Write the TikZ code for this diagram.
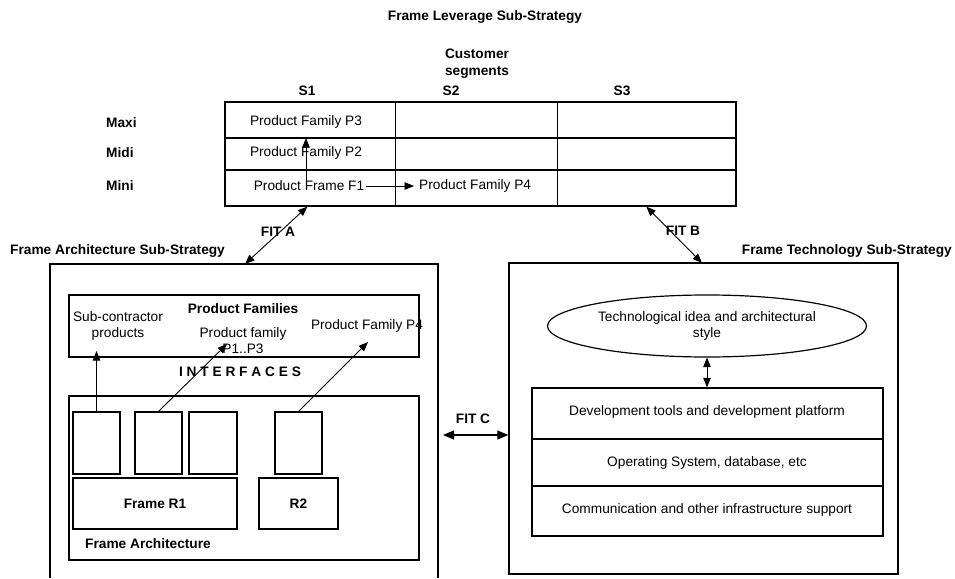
\documentclass[tikz,border=0pt]{standalone}
\usepackage{fontspec}
\setmainfont{Liberation Sans}
\usetikzlibrary{arrows.meta,shapes.geometric,calc,fit}

\begin{document}
\begin{tikzpicture}[x=1pt,y=-1pt,
  every node/.style={font=\fontsize{13.7}{16}\selectfont, inner sep=0pt},
  lbl/.style={font=\fontsize{13.7}{17}\selectfont\bfseries},
  box/.style={draw, line width=1.3pt, inner sep=0pt},
  thinbox/.style={draw, line width=1.1pt, inner sep=0pt},
  heavybox/.style={draw, line width=2.3pt, inner sep=0pt, font=\fontsize{13.7}{16}\selectfont\bfseries},
  gridline/.style={line width=1.3pt},
  arr/.style={-{Triangle[length=9.5pt,width=7.5pt]}, line width=0.9pt},
  dbl/.style={{Triangle[length=9.5pt,width=7.5pt]}-{Triangle[length=9.5pt,width=7.5pt]}, line width=0.9pt},
  bigdbl/.style={{Triangle[length=11pt,width=9pt]}-{Triangle[length=11pt,width=9pt]}, line width=1.1pt}
]
\useasboundingbox (0,0) rectangle (955,578);

% ---------- Frame leverage: customer segments table ----------
\node[lbl] (title) at (485,17) {Frame Leverage Sub-Strategy};
\node[lbl, align=center] (cust) at (477,63.5) {Customer\\segments};
\node[lbl] (s1) at (307,91) {S1};
\node[lbl] (s2) at (451,91) {S2};
\node[lbl] (s3) at (622,91) {S3};
\node[lbl, anchor=west] (maxi) at (106,123) {Maxi};
\node[lbl, anchor=west] (midi) at (106,153) {Midi};
\node[lbl, anchor=west] (mini) at (106,186) {Mini};

\node[box, fit={(225,102) (736,206)}] (tbl) {};
\coordinate (row1) at (225,138);
\coordinate (row2) at (225,170);
\draw[gridline] (row1) -- (row1 -| tbl.east);
\draw[gridline] (row2) -- (row2 -| tbl.east);
\draw[gridline] ($(tbl.north west)+(171,0)$) -- ($(tbl.south west)+(171,0)$);
\draw[gridline] ($(tbl.north west)+(333,0)$) -- ($(tbl.south west)+(333,0)$);

\node (p3) at (306,122) {Product Family P3};
\node (p2) at (306,153) {Product Family P2};
\node (f1) at (309,186) {Product Frame F1};
\node[anchor=west] (p4) at (419,186) {Product Family P4};
\draw[arr] (f1.north -| p3) -- (p3 |- row1);
\draw[arr, shorten <=2pt, shorten >=5pt] (f1) -- (p4);

% ---------- Frame architecture sub-strategy ----------
\node[lbl, anchor=west] (archtitle) at (10,251) {Frame Architecture Sub-Strategy};
\coordinate (abl) at (50,578);
\coordinate (atl) at (50,264);
\coordinate (atr) at (438,264);
\coordinate (abr) at (438,578);
\draw[line width=1.3pt] (abl) -- (atl) -- (atr) -- (abr);

\node[box, fit={(69,295) (419,357)}] (pf) {};
\node[lbl] (pftitle) at (243,309) {Product Families};
\node[align=center] (sub) at (118,326) {Sub-contractor\\products};
\node[align=center] (pf13) at (243,341) {Product family\\P1..P3};
\node (pf4) at (367,326) {Product Family P4};
\node[lbl] (intf) at (240,372) {I N T E R F A C E S};

\node[box, fit={(69,396) (419,560)}] (fa) {};
\node[thinbox, fit={(73,412) (120,474)}] (m1) {};
\node[thinbox, fit={(135,412) (182,474)}] (m2) {};
\node[thinbox, fit={(189,412) (237,474)}] (m3) {};
\node[thinbox, fit={(275,412) (322,474)}] (m4) {};
\node[heavybox, fit={(73,478) (237,529)}] (r1) {};
\node[font=\fontsize{13.7}{16}\selectfont\bfseries] (r1t) at (r1.center) {Frame R1};
\node[heavybox, fit={(259,478) (338,529)}] (r2) {};
\node[font=\fontsize{13.7}{16}\selectfont\bfseries] (r2t) at (r2.center) {R2};
\node[lbl, anchor=west] (fatitle) at (85,544) {Frame Architecture};

\coordinate (tipsub) at (96.5,351);
\coordinate (tip13) at (227,344);
\coordinate (tip4) at (368,342);
\draw[arr] (m1.north) -- (tipsub);
\draw[arr] (m2.north) -- (tip13);
\draw[arr] (m4.north) -- (tip4);

% ---------- Frame technology sub-strategy ----------
\node[lbl, anchor=east] (techtitle) at (952,251) {Frame Technology Sub-Strategy};
\node[box, fit={(509,263) (898,574)}] (rbox) {};
\node[draw, ellipse, line width=1.2pt, minimum width=319pt, minimum height=62pt, align=center] (idea) at (707,326) {Technological idea and architectural\\style};
\node[box, fit={(532,388) (883,536)}] (st) {};
\coordinate (srow1) at (532,439);
\coordinate (srow2) at (532,486);
\draw[gridline] (srow1) -- (srow1 -| st.east);
\draw[gridline] (srow2) -- (srow2 -| st.east);
\node (dev) at (707,412) {Development tools and development platform};
\node (os) at (707,463) {Operating System, database, etc};
\node (comm) at (707,510) {Communication and other infrastructure support};
\draw[dbl] (idea.south) -- (idea.south |- st.north);

% ---------- fits between the sub-strategies ----------
\coordinate (fa1) at (245,264);
\coordinate (fb2) at (702,263);
\draw[dbl] (fa1) -- ($(tbl.south west)+(83,0)$);
\node[lbl] (fitA) at (278,232) {FIT A};
\draw[dbl] ($(tbl.south west)+(422,0)$) -- (fb2);
\node[lbl] (fitB) at (683,231) {FIT B};
\coordinate (fc1) at (443,435);
\draw[bigdbl] (fc1) -- (fc1 -| rbox.west);
\node[lbl] (fitC) at (473,419) {FIT C};
\end{tikzpicture}
\end{document}
